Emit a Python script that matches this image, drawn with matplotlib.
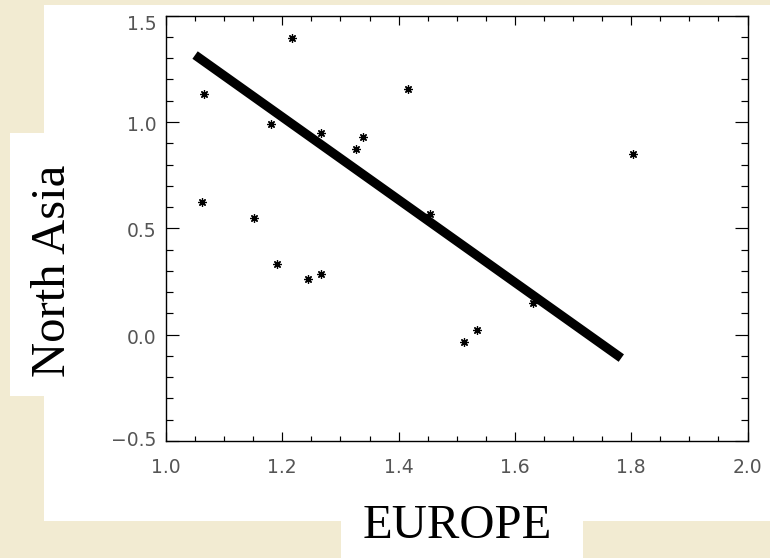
import matplotlib
matplotlib.use("Agg")
import matplotlib.pyplot as plt
from matplotlib.patches import Rectangle
from matplotlib.ticker import MultipleLocator
from matplotlib.transforms import ScaledTranslation

# Observations: EUROPE vs North Asia
europe = [1.217, 1.065, 1.416, 1.181, 1.266, 1.339, 1.327, 1.803, 1.062,
          1.151, 1.454, 1.191, 1.244, 1.267, 1.631, 1.512, 1.535]
north_asia = [1.396, 1.131, 1.153, 0.989, 0.949, 0.929, 0.874, 0.850, 0.624,
              0.550, 0.567, 0.334, 0.262, 0.284, 0.150, -0.034, 0.024]

# Fitted trend line end points
fit_europe = [1.050, 1.783]
fit_north_asia = [1.315, -0.110]

x_ticks = [1.0, 1.2, 1.4, 1.6, 1.8, 2.0]
x_tick_labels = ["1.0", "1.2", "1.4", "1.6", "1.8", "2.0"]
y_ticks = [-0.5, 0.0, 0.5, 1.0, 1.5]
y_tick_labels = ["\u22120.5", "0.0", "0.5", "1.0", "1.5"]

W, H = 770, 558
PARCHMENT = "#F2EBD2"

fig = plt.figure(figsize=(W / 100, H / 100), dpi=100)
fig.patch.set_facecolor(PARCHMENT)


def white_box(x0, y0, x1, y1):
    """White panel given in pixel coordinates (origin top-left)."""
    r = Rectangle((x0 / W, 1 - y1 / H), (x1 - x0) / W, (y1 - y0) / H,
                  transform=fig.transFigure, facecolor="white",
                  edgecolor="none", zorder=0)
    fig.add_artist(r)


white_box(44, 5, W, 521)      # main panel
white_box(10, 133, 60, 396)   # y-label panel
white_box(341, 515, 583, H)   # x-label panel

ax = fig.add_axes([166 / W, 1 - 441 / H, (747.5 - 166) / W, (441 - 15.7) / H])
ax.set_facecolor("white")

ax.plot(fit_europe, fit_north_asia, color="black", linewidth=6.6,
        solid_capstyle="butt", zorder=2)
ax.plot(europe, north_asia, linestyle="none", marker=(8, 2, 0),
        markersize=6, markeredgewidth=0.9, color="black", zorder=3)

ax.set_xlim(1.0, 2.0)
ax.set_ylim(-0.5, 1.5)
ax.set_xticks(x_ticks)
ax.set_xticklabels(x_tick_labels)
ax.set_yticks(y_ticks)
ax.set_yticklabels(y_tick_labels)
ax.xaxis.set_minor_locator(MultipleLocator(0.05))
ax.yaxis.set_minor_locator(MultipleLocator(0.1))

for s in ax.spines.values():
    s.set_linewidth(1.0)
    s.set_color("black")

ax.tick_params(axis="both", which="both", direction="in", top=True,
               right=True, width=0.85, colors="black", labelcolor="#555555",
               labelsize=13.5)
ax.tick_params(axis="x", which="major", length=6.2, pad=12)
ax.tick_params(axis="x", which="minor", length=3.4)
ax.tick_params(axis="y", which="major", length=9.3, pad=7)
ax.tick_params(axis="y", which="minor", length=4.8)

# nudge the outermost y labels inward, as the original plotting package does
yticks = ax.yaxis.get_major_ticks()
for tick, dy in zip(yticks, [3, -1.5, -1.5, -1.5, -7]):
    tick.label1.set_transform(tick.label1.get_transform()
                              + ScaledTranslation(0, dy / 100, fig.dpi_scale_trans))

label_font = dict(family="Liberation Serif", size=35, color="black")
ax.set_xlabel("EUROPE", **label_font)
ax.xaxis.label.set_va("baseline")
ax.xaxis.set_label_coords(0.5, -(538 - 441) / (441 - 15.7))

ax.set_ylabel("North Asia", **label_font)
ax.yaxis.label.set_va("baseline")
ax.yaxis.set_label_coords((65 - 166) / (747.5 - 166), (441 - 271) / (441 - 15.7))

fig.savefig("out.png", dpi=100, facecolor=fig.get_facecolor())
